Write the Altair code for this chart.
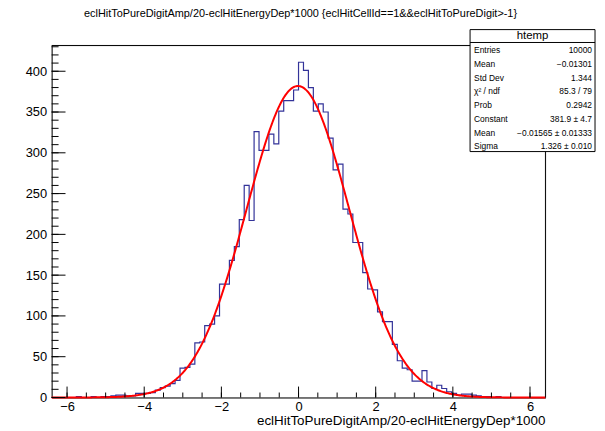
import altair as alt
import pandas as pd

# ---------------- data ----------------
x_min, x_max, n_bins = -6.4, 6.4, 100
counts = [
    0, 0, 0, 0, 0, 1, 0, 0, 1, 0, 1, 1, 2,
    3, 3, 2, 2, 5, 5, 5, 6,
    9, 12, 14, 17, 21, 36, 37, 41,
    67, 68, 88, 90, 100,
    139, 139, 168, 185, 218, 260, 217,
    326, 303, 303, 323, 311, 351, 364, 364, 377,
    411, 401, 380, 351, 360, 350, 318, 279, 286,
    231, 225, 190, 190, 153, 133, 132, 105, 93, 93,
    65, 45, 36, 34, 20, 20, 33, 19, 11, 15, 11,
    7, 5, 3, 4, 4, 3, 2, 1, 1, 0, 1, 0, 0, 0, 0, 0, 0, 0, 0, 0,
]
fit_constant, fit_mean, fit_sigma = 381.9, -0.01565, 1.326

x_ticks_major = [-6, -4, -2, 0, 2, 4, 6]
x_ticks_minor = [-6, -5.5, -5, -4.5, -4, -3.5, -3, -2.5, -2, -1.5, -1, -0.5, 0,
                 0.5, 1, 1.5, 2, 2.5, 3, 3.5, 4, 4.5, 5, 5.5, 6]
y_ticks_major = [0, 50, 100, 150, 200, 250, 300, 350, 400]
y_ticks_minor = list(range(0, 431, 10))

title_text = "eclHitToPureDigitAmp/20-eclHitEnergyDep*1000 {eclHitCellId==1&&eclHitToPureDigit>-1}"
x_title = "eclHitToPureDigitAmp/20-eclHitEnergyDep*1000"
stats_title = "htemp"
stat_names = ["Entries", "Mean", "Std Dev", "\u03c7\u00b2 / ndf", "Prob", "Constant", "Mean", "Sigma"]
stat_values = ["10000", "\u22120.01301", "1.344", "85.3 / 79", "0.2942",
               "381.9 \u00b1 4.7", "\u22120.01565 \u00b1 0.01333", "1.326 \u00b1 0.010"]

# ---------------- layout ----------------
W, H = 498, 355
Y_MAX = 431.6
FONT = "Liberation Sans"

bw = (x_max - x_min) / n_bins
hist_df = pd.DataFrame({
    "x": [x_min + i * bw for i in range(n_bins)] + [x_max],
    "n": counts + [counts[-1]],
})
one = pd.DataFrame({"d": [0]})

xs = alt.Scale(domain=[x_min, x_max], nice=False, zero=False)
ys = alt.Scale(domain=[0, Y_MAX], nice=False, zero=False)
xa = alt.Axis(values=x_ticks_major, ticks=False, tickSize=0, grid=False, title=None,
              labelFont=FONT, labelFontSize=13, labelColor="black", labelPadding=3,
              domainColor="black", domainWidth=1, format="d")
ya = alt.Axis(values=y_ticks_major, ticks=False, tickSize=0, grid=False, title=None,
              labelFont=FONT, labelFontSize=13, labelColor="black", labelPadding=5,
              domainColor="black", domainWidth=1, format="d")

hist = alt.Chart(hist_df).mark_line(
    interpolate="step-after", color="#333399", strokeWidth=1.2
).encode(
    x=alt.X("x:Q", scale=xs, axis=xa),
    y=alt.Y("n:Q", scale=ys, axis=ya),
)

fit = alt.Chart(alt.sequence(x_min, x_max + 0.001, 0.02, as_="x")).transform_calculate(
    f=f"{fit_constant}*exp(-0.5*pow((datum.x-({fit_mean}))/{fit_sigma},2))"
).mark_line(color="#ff0000", strokeWidth=2).encode(
    x=alt.X("x:Q", scale=xs, axis=xa),
    y=alt.Y("f:Q", scale=ys, axis=ya),
)

xt_major = alt.Chart(pd.DataFrame({"x": x_ticks_major})).mark_rule(color="black").encode(
    x=alt.X("x:Q", scale=xs, axis=xa), y=alt.value(H), y2=alt.value(H - 11))
xt_minor = alt.Chart(pd.DataFrame({"x": x_ticks_minor})).mark_rule(color="black").encode(
    x=alt.X("x:Q", scale=xs, axis=xa), y=alt.value(H), y2=alt.value(H - 5))
yt_major = alt.Chart(pd.DataFrame({"n": y_ticks_major})).mark_rule(color="black").encode(
    y=alt.Y("n:Q", scale=ys, axis=ya), x=alt.value(0), x2=alt.value(14))
yt_minor = alt.Chart(pd.DataFrame({"n": y_ticks_minor})).mark_rule(color="black").encode(
    y=alt.Y("n:Q", scale=ys, axis=ya), x=alt.value(0), x2=alt.value(7))

frame_top = alt.Chart(one).mark_rule(color="black").encode(
    x=alt.value(0), x2=alt.value(W), y=alt.value(0))
frame_right = alt.Chart(one).mark_rule(color="black").encode(
    x=alt.value(W), y=alt.value(0), y2=alt.value(H))

# stats box
BX0, BX1, BY0, BY1 = 422, 548, -16, 107
box = alt.Chart(one).mark_rect(fill="white", stroke="black", strokeWidth=1).encode(
    x=alt.value(BX0), x2=alt.value(BX1), y=alt.value(BY0), y2=alt.value(BY1))
sep = alt.Chart(one).mark_rule(color="black").encode(
    x=alt.value(BX0), x2=alt.value(BX1), y=alt.value(-3))
box_title = alt.Chart(one).mark_text(font=FONT, fontSize=11.5, color="black",
                                     align="center", baseline="middle").encode(
    x=alt.value((BX0 + BX1) / 2), y=alt.value(-9.5), text=alt.value(stats_title))

stat_layers = []
for i, (nm, vl) in enumerate(zip(stat_names, stat_values)):
    yy = 5 + 13.8 * i
    stat_layers.append(alt.Chart(one).mark_text(
        font=FONT, fontSize=8.5, color="black", align="left", baseline="middle").encode(
        x=alt.value(BX0 + 4), y=alt.value(yy), text=alt.value(nm)))
    stat_layers.append(alt.Chart(one).mark_text(
        font=FONT, fontSize=8.5, color="black", align="right", baseline="middle").encode(
        x=alt.value(BX1 - 3), y=alt.value(yy), text=alt.value(vl)))

top_title = alt.Chart(one).mark_text(font=FONT, fontSize=11, color="black",
                                     align="center", baseline="middle").encode(
    x=alt.value(251), y=alt.value(-32), text=alt.value(title_text))
xtitle = alt.Chart(one).mark_text(font=FONT, fontSize=13.5, color="black",
                                  align="right", baseline="alphabetic").encode(
    x=alt.value(W), y=alt.value(383), text=alt.value(x_title))

chart = alt.layer(
    hist, fit, xt_major, xt_minor, yt_major, yt_minor, frame_top, frame_right,
    box, sep, box_title, *stat_layers, top_title, xtitle
).properties(
    width=W, height=H,
    autosize=alt.AutoSizeParams(type="none"),
    padding={"left": 44, "top": 36, "right": 52, "bottom": 30},
).configure_view(stroke=None).configure(background="white")

chart.save("out.html", embed_options={"renderer": "svg", "actions": False})
